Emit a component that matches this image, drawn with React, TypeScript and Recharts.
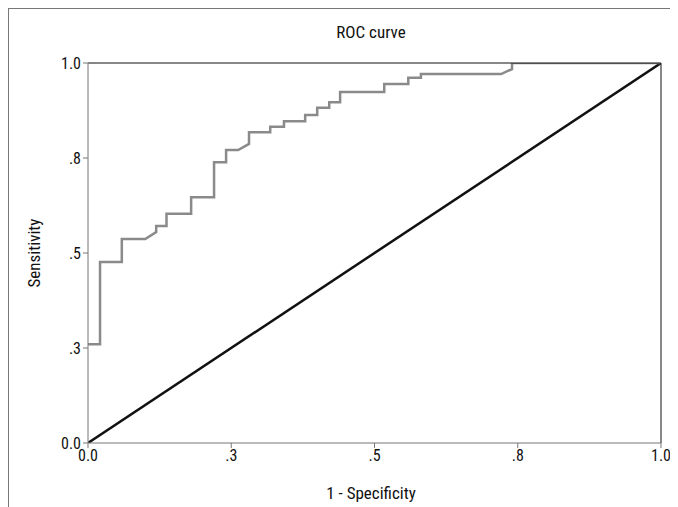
import React from 'react';
import { LineChart, Line, XAxis, YAxis, ReferenceLine } from 'recharts';

const fpr = [0, 0.021, 0.021, 0.059, 0.059, 0.1, 0.119, 0.119, 0.137, 0.137, 0.18, 0.18, 0.22, 0.22, 0.241, 0.241, 0.262, 0.281, 0.281, 0.318, 0.318, 0.342, 0.342, 0.379, 0.379, 0.4, 0.4, 0.421, 0.421, 0.44, 0.44, 0.517, 0.517, 0.559, 0.559, 0.581, 0.581, 0.721, 0.74, 0.74, 1];
const tpr = [0.26, 0.26, 0.476, 0.476, 0.537, 0.537, 0.555, 0.571, 0.571, 0.603, 0.603, 0.647, 0.647, 0.739, 0.739, 0.771, 0.771, 0.787, 0.818, 0.818, 0.832, 0.832, 0.847, 0.847, 0.863, 0.863, 0.882, 0.882, 0.897, 0.897, 0.924, 0.924, 0.945, 0.945, 0.961, 0.961, 0.971, 0.971, 0.984, 1, 1];
const ticks = [0, 0.25, 0.5, 0.75, 1];
const tickLabels = ['0.0', '.3', '.5', '.8', '1.0'];

const rocData = fpr.map((x, i) => ({ x, y: tpr[i] }));
const diagData = [{ x: 0, y: 0 }, { x: 1, y: 1 }];

const font = '"Liberation Sans Narrow", "Roboto Condensed", Roboto, sans-serif';
const fmt = (v: number) => tickLabels[ticks.indexOf(v)] ?? String(v);

export default function App() {
  return (
    <div style={{ width: 662, height: 499, borderLeft: '1px solid #777', borderTop: '1px solid #777', position: 'relative', fontFamily: font, boxSizing: 'border-box' }}>
      <div style={{ position: 'absolute', top: 13, left: 0, width: 724, textAlign: 'center', fontSize: 17, color: '#111' }}>ROC curve</div>
      <div style={{ position: 'absolute', left: 25, top: 244, transform: 'translate(-50%, -50%) rotate(-90deg)', fontSize: 17, color: '#111' }}>Sensitivity</div>
      <div style={{ position: 'absolute', top: 474, left: 0, width: 724, textAlign: 'center', fontSize: 17, color: '#111' }}>1 - Specificity</div>
      <LineChart width={662} height={499} margin={{ top: 54, right: 10, left: 39, bottom: 35 }}>
        <XAxis type="number" dataKey="x" domain={[0, 1]} ticks={ticks} tickFormatter={fmt} allowDataOverflow
          stroke="#777" tick={{ fill: '#111', fontSize: 16, fontFamily: font }} tickSize={5} height={30} />
        <YAxis type="number" dataKey="y" domain={[0, 1]} ticks={ticks} tickFormatter={fmt} allowDataOverflow
          stroke="#777" tick={{ fill: '#111', fontSize: 16, fontFamily: font }} tickSize={5} width={40} />
        <Line data={diagData} dataKey="y" type="linear" stroke="#111" strokeWidth={2.5} dot={false} isAnimationActive={false} />
        <Line data={rocData} dataKey="y" type="linear" stroke="#8a8a8a" strokeWidth={2.5} dot={false} isAnimationActive={false} />
        <ReferenceLine y={1} stroke="#111" strokeWidth={1} />
        <ReferenceLine x={1} stroke="#111" strokeWidth={1} />
      </LineChart>
    </div>
  );
}
